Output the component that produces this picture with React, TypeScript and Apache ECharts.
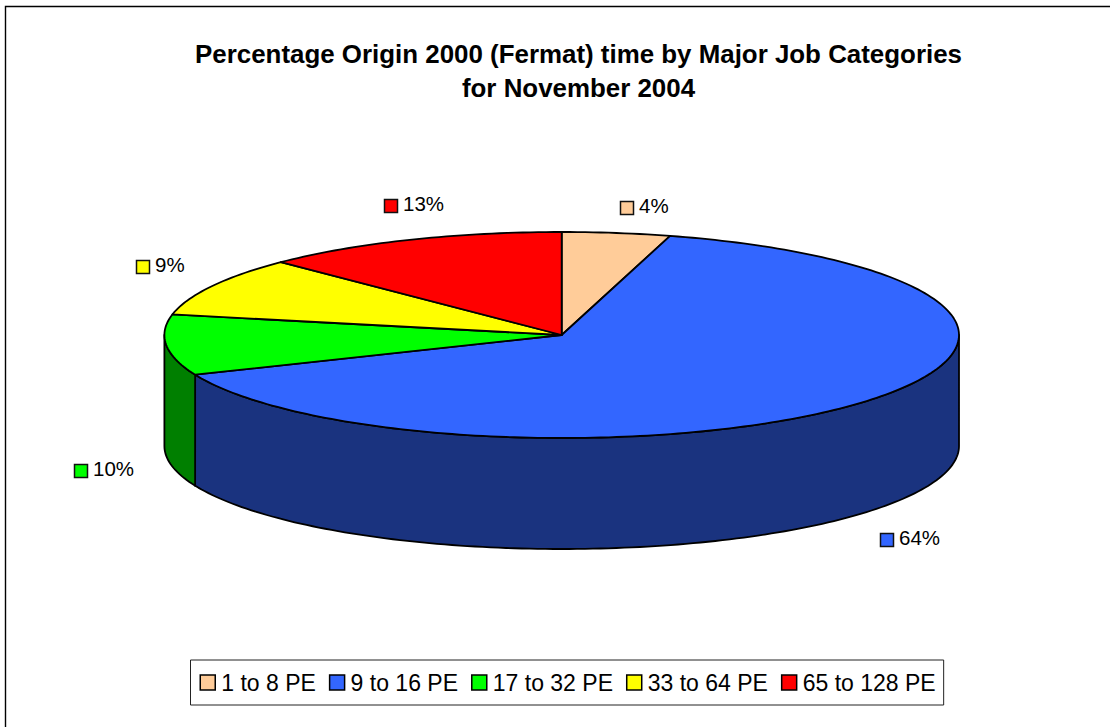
import React, { useEffect, useRef } from "react";
import * as echarts from "echarts";

const titleLines = ["Percentage Origin 2000 (Fermat) time by Major Job Categories", "for November 2004"];
const categories = ["1 to 8 PE", "9 to 16 PE", "17 to 32 PE", "33 to 64 PE", "65 to 128 PE"];
const shares = [4.4, 64.3, 9.5, 9.3, 12.5];
const shareLabels = ["4%", "64%", "10%", "9%", "13%"];
const topColors = ["#FFCC99", "#3366FF", "#00FF00", "#FFFF00", "#FF0000"];
const wallColors = ["#7F6650", "#1A337F", "#007F00", "#7F7F00", "#7F0000"];
const labelAnchors = [[620, 201], [880, 533], [74, 464], [136, 260], [384, 199]];

const CX = 561.7, CY = 335, RX = 397.3, RY = 103, DEPTH = 111;
const FONT = "'Liberation Sans', Arial, sans-serif";

function pt(t: number, dy = 0): [number, number] {
  return [CX + RX * Math.sin(t), CY - RY * Math.cos(t) + dy];
}
function arc(a: number, b: number, dy = 0) {
  const n = Math.max(2, Math.ceil(Math.abs(b - a) / 0.02));
  const out: [number, number][] = [];
  for (let i = 0; i <= n; i++) out.push(pt(a + ((b - a) * i) / n, dy));
  return out;
}

const total = shares.reduce((s, v) => s + v, 0);

function makeSeries(i: number) {
  const before = shares.slice(0, i).reduce((s, v) => s + v, 0);
  return {
    type: "custom",
    name: categories[i],
    coordinateSystem: "none",
    silent: true,
    itemStyle: { color: topColors[i] },
    data: [shares[i]],
    renderItem: (_p: any, api: any) => {
      const a = (before / total) * 2 * Math.PI;
      const b = a + (api.value(0) / total) * 2 * Math.PI;
      const children: any[] = [];
      const lo = Math.max(a, Math.PI / 2);
      const hi = Math.min(b, (3 * Math.PI) / 2);
      if (hi > lo) {
        children.push({
          type: "polygon",
          shape: { points: [...arc(lo, hi), ...arc(hi, lo, DEPTH)] },
          style: { fill: wallColors[i], stroke: "#000", lineWidth: 1.8, lineJoin: "round" },
        });
      }
      children.push({
        type: "polygon",
        shape: { points: [[CX, CY], ...arc(a, b)] },
        style: { fill: topColors[i], stroke: "#000", lineWidth: 1.8, lineJoin: "round" },
      });
      const [lx, ly] = labelAnchors[i];
      children.push({
        type: "rect",
        shape: { x: lx + 0.5, y: ly + 0.5, width: 13, height: 13 },
        style: { fill: topColors[i], stroke: "#111", lineWidth: 1.5 },
      });
      children.push({
        type: "text",
        x: lx + 19,
        y: ly + 4.8,
        style: { text: shareLabels[i], fill: "#000", font: `20.5px ${FONT}`, textAlign: "left", textVerticalAlign: "middle" },
      });
      return { type: "group", children };
    },
  };
}

export default function App() {
  const ref = useRef<HTMLDivElement>(null);
  useEffect(() => {
    const chart = echarts.init(ref.current!, undefined, { renderer: "svg" });
    chart.setOption({
      animation: false,
      backgroundColor: "#fff",
      title: {
        text: titleLines.join("\n"),
        left: 573.5,
        top: 32,
        textAlign: "center",
        textStyle: { fontFamily: FONT, fontWeight: "bold", fontSize: 25.9, lineHeight: 34, color: "#000" },
      },
      legend: {
        data: categories,
        left: 190.5,
        top: 660,
        orient: "horizontal",
        icon: "rect",
        itemWidth: 15,
        itemHeight: 15,
        itemGap: 13,
        padding: [11, 8, 11, 9],
        borderColor: "#222",
        borderWidth: 1,
        backgroundColor: "#fff",
        selectedMode: false,
        itemStyle: { borderColor: "#000", borderWidth: 1.5 },
        textStyle: { fontFamily: FONT, fontSize: 23, color: "#000", padding: [0, 0, 0, 1] },
      },
      graphic: [
        {
          type: "polyline",
          silent: true,
          z: -1,
          shape: { points: [[5.5, 727], [5.5, 6.5], [1110, 6.5]] },
          style: { fill: "none", stroke: "#000", lineWidth: 1.4 },
        },
      ],
      series: categories.map((_, i) => makeSeries(i)),
    });
    return () => chart.dispose();
  }, []);
  return <div ref={ref} style={{ position: "fixed", left: 0, top: 0, width: 1110, height: 727 }} />;
}
